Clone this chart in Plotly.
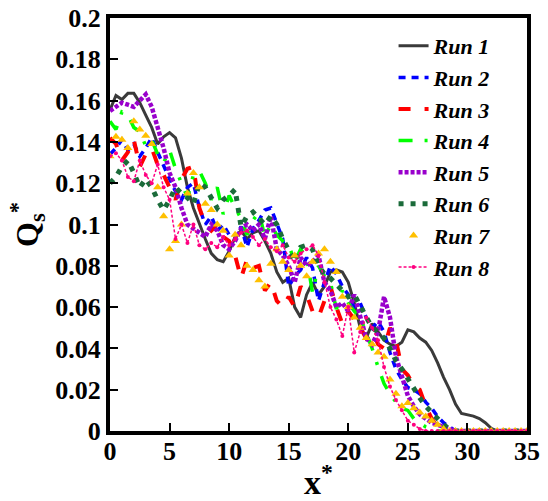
import plotly.graph_objects as go

# x* grid (read positions along the channel)
X = [0, 0.5, 1, 1.5, 2, 2.5, 3, 3.5, 4, 4.5, 5, 5.5, 6, 6.5, 7, 7.5, 8, 8.5, 9, 9.5,
     10, 10.5, 11, 11.5, 12, 12.5, 13, 13.5, 14, 14.5, 15, 15.5, 16, 16.5, 17, 17.5,
     18, 18.5, 19, 19.5, 20, 20.5, 21, 21.5, 22, 22.5, 23, 23.5, 24, 24.5, 25, 25.5,
     26, 26.5, 27, 27.5, 28, 28.5, 29, 29.5, 30, 30.5, 31, 31.5, 32, 32.5, 33, 33.5,
     34, 34.5, 35]

run1 = [0.1555, 0.1625, 0.1605, 0.1635, 0.1635, 0.159, 0.153, 0.147, 0.139, 0.1425,
        0.1445, 0.142, 0.132, 0.118, 0.108, 0.1, 0.093, 0.086, 0.083, 0.082,
        0.087, 0.094, 0.097, 0.093, 0.096, 0.097, 0.092, 0.086, 0.077, 0.072,
        0.074, 0.06, 0.055, 0.066, 0.072, 0.066, 0.07, 0.077, 0.078, 0.077,
        0.072, 0.062, 0.05, 0.045, 0.052, 0.048, 0.044, 0.042, 0.041, 0.043,
        0.049, 0.048, 0.045, 0.043, 0.039, 0.033, 0.026, 0.02, 0.013, 0.0085,
        0.0078, 0.0072, 0.006, 0.004, 0.0013, 0, 0, 0, 0, 0, 0]

run2 = [0.134, 0.137, 0.141, 0.136, 0.139, 0.133, 0.137, 0.142, 0.135, 0.128,
        0.122, 0.116, 0.112, 0.118, 0.12, 0.108, 0.1, 0.104, 0.097, 0.1,
        0.095, 0.093, 0.099, 0.089, 0.098, 0.102, 0.107, 0.108, 0.1, 0.093,
        0.07, 0.075, 0.078, 0.084, 0.079, 0.063, 0.072, 0.08, 0.076, 0.07,
        0.066, 0.06, 0.062, 0.055, 0.05, 0.053, 0.048, 0.038, 0.03, 0.025,
        0.021, 0.02, 0.018, 0.014, 0.011, 0.007, 0.004, 0.002, 0, 0,
        0, 0, 0, 0, 0, 0, 0, 0, 0, 0, 0]

run3 = [0.142, 0.139, 0.131, 0.135, 0.141, 0.128, 0.134, 0.137, 0.129, 0.124,
        0.118, 0.112, 0.122, 0.127, 0.128, 0.108, 0.1, 0.097, 0.1, 0.094,
        0.092, 0.085, 0.074, 0.083, 0.079, 0.08, 0.068, 0.072, 0.063, 0.06,
        0.065, 0.06, 0.07, 0.066, 0.058, 0.055, 0.063, 0.07, 0.06, 0.052,
        0.058, 0.054, 0.05, 0.045, 0.048, 0.042, 0.04, 0.05, 0.044, 0.03,
        0.027, 0.022, 0.02, 0.012, 0.006, 0.002, 0, 0, 0, 0,
        0, 0, 0, 0, 0, 0, 0, 0, 0, 0, 0]

run4 = [0.15, 0.146, 0.1545, 0.153, 0.147, 0.145, 0.138, 0.141, 0.134, 0.13,
        0.136, 0.127, 0.12, 0.113, 0.124, 0.126, 0.12, 0.112, 0.118, 0.105,
        0.114, 0.108, 0.103, 0.095, 0.102, 0.106, 0.094, 0.1, 0.095, 0.092,
        0.09, 0.082, 0.088, 0.084, 0.067, 0.08, 0.075, 0.072, 0.059, 0.068,
        0.062, 0.058, 0.055, 0.048, 0.04, 0.031, 0.023, 0.018, 0.014, 0.011,
        0.01, 0.006, 0.004, 0.002, 0.001, 0, 0, 0, 0, 0,
        0, 0, 0, 0, 0, 0, 0, 0, 0, 0, 0]

run5 = [0.155, 0.157, 0.159, 0.158, 0.157, 0.16, 0.163, 0.157, 0.147, 0.137,
        0.125, 0.118, 0.108, 0.1, 0.098, 0.096, 0.094, 0.1, 0.097, 0.09,
        0.088, 0.092, 0.098, 0.1, 0.097, 0.1, 0.093, 0.104, 0.088, 0.085,
        0.08, 0.072, 0.084, 0.08, 0.082, 0.085, 0.072, 0.068, 0.06, 0.062,
        0.058, 0.066, 0.055, 0.045, 0.042, 0.048, 0.065, 0.055, 0.036, 0.026,
        0.017, 0.012, 0.008, 0.006, 0.004, 0.003, 0.002, 0.001, 0, 0,
        0, 0, 0, 0, 0, 0, 0, 0, 0, 0, 0]

run6 = [0.12, 0.123, 0.128, 0.131, 0.125, 0.118, 0.122, 0.118, 0.112, 0.107,
        0.112, 0.118, 0.115, 0.113, 0.11, 0.12, 0.118, 0.113, 0.108, 0.112,
        0.114, 0.117, 0.099, 0.104, 0.106, 0.103, 0.1, 0.104, 0.1, 0.093,
        0.088, 0.082, 0.089, 0.09, 0.088, 0.08, 0.076, 0.074, 0.071, 0.068,
        0.065, 0.066, 0.061, 0.056, 0.05, 0.048, 0.045, 0.04, 0.034, 0.03,
        0.025, 0.02, 0.016, 0.012, 0.009, 0.006, 0.003, 0.001, 0, 0,
        0, 0, 0, 0, 0, 0, 0, 0, 0, 0, 0]

run7 = [0.133, 0.1425, 0.141, 0.137, 0.15, 0.146, 0.143, 0.139, 0.118, 0.104,
        0.088, 0.092, 0.1, 0.115, 0.125, 0.118, 0.11, 0.107, 0.1, 0.097,
        0.085, 0.095, 0.09, 0.08, 0.078, 0.073, 0.07, 0.081, 0.088, 0.082,
        0.078, 0.085, 0.08, 0.075, 0.082, 0.086, 0.088, 0.082, 0.077, 0.065,
        0.06, 0.055, 0.05, 0.045, 0.042, 0.038, 0.036, 0.025, 0.018, 0.012,
        0.0135, 0.011, 0.009, 0.007, 0.005, 0.003, 0.001, 0, 0, 0,
        0, 0, 0, 0, 0, 0, 0, 0, 0, 0, 0]

run8 = [0.133, 0.1345, 0.131, 0.123, 0.121, 0.131, 0.124, 0.12, 0.129, 0.118,
        0.112, 0.093, 0.1, 0.091, 0.1, 0.09, 0.088, 0.091, 0.089, 0.094,
        0.09, 0.093, 0.096, 0.097, 0.094, 0.09, 0.093, 0.089, 0.087, 0.09,
        0.084, 0.082, 0.086, 0.088, 0.09, 0.085, 0.072, 0.06, 0.054, 0.046,
        0.06, 0.038, 0.048, 0.055, 0.05, 0.044, 0.031, 0.0215, 0.015, 0.01,
        0.005, 0.003, 0.001, 0, 0, 0, 0, 0, 0, 0,
        0, 0, 0, 0, 0, 0, 0, 0, 0, 0, 0]

names = ["Run 1", "Run 2", "Run 3", "Run 4", "Run 5", "Run 6", "Run 7", "Run 8"]
series = [run1, run2, run3, run4, run5, run6, run7, run8]
colors = ["#3a3a3a", "#0000ff", "#ff0000", "#00ff00", "#9900cc", "#1b6b3a", "#ffc000", "#ff0080"]

styles = [
    dict(mode="lines", line=dict(width=3, dash="solid")),
    dict(mode="lines", line=dict(width=3.5, dash="7px,6px")),
    dict(mode="lines", line=dict(width=4, dash="12px,14px")),
    dict(mode="lines", line=dict(width=3.5, dash="14px,12px,3px,12px")),
    dict(mode="lines", line=dict(width=4.5, dash="4px,2px")),
    dict(mode="lines", line=dict(width=5, dash="5px,7px")),
    dict(mode="markers", marker=dict(symbol="triangle-up", size=8)),
    dict(mode="lines+markers", line=dict(width=1.5, dash="3px,2px"), marker=dict(size=4)),
]

fig = go.Figure()
for name, ys, col, st in zip(names, series, colors, styles):
    kw = dict(st)
    if "line" in kw:
        kw["line"] = dict(kw["line"], color=col)
    if "marker" in kw:
        kw["marker"] = dict(kw["marker"], color=col)
    fig.add_trace(go.Scatter(x=X, y=ys, name=name, **kw))

font_family = "Times New Roman, Liberation Serif, serif"
fig.update_layout(
    width=548, height=501,
    margin=dict(l=110, r=21, t=18, b=70),
    paper_bgcolor="white", plot_bgcolor="white",
    font=dict(family=font_family, color="black"),
    showlegend=True,
    legend=dict(
        x=0.68, y=0.983, xanchor="left", yanchor="top",
        bgcolor="rgba(255,255,255,0)",
        font=dict(family=font_family, size=22, weight="bold", style="italic"),
        tracegroupgap=0,
    ),
)
fig.update_xaxes(
    range=[0, 35], tickvals=[0, 5, 10, 15, 20, 25, 30, 35],
    showgrid=False, zeroline=False, automargin=False,
    showline=True, linecolor="black", linewidth=4, mirror=True,
    ticks="inside", ticklen=8, tickwidth=2, tickcolor="black",
    ticklabelstandoff=-6, ticklabeloverflow="allow",
    tickfont=dict(family=font_family, size=26, weight="bold"),
    title=dict(text="x<sup>*</sup>", font=dict(family=font_family, size=34, weight="bold"), standoff=6),
)
fig.update_yaxes(
    range=[0, 0.2], dtick=0.02, tick0=0,
    showgrid=False, zeroline=False, automargin=False,
    showline=True, linecolor="black", linewidth=4, mirror=True,
    ticks="inside", ticklen=8, tickwidth=2, tickcolor="black",
    ticklabeloverflow="allow",
    tickfont=dict(family=font_family, size=26, weight="bold"),
    title=dict(text="Q<sub>s</sub><sup>*</sup>", font=dict(family=font_family, size=32, weight="bold"), standoff=8),
)

fig.write_html(
    "out.html",
    config={"displayModeBar": False},
    post_script="document.body.style.margin='0';document.body.style.padding='0';",
)
